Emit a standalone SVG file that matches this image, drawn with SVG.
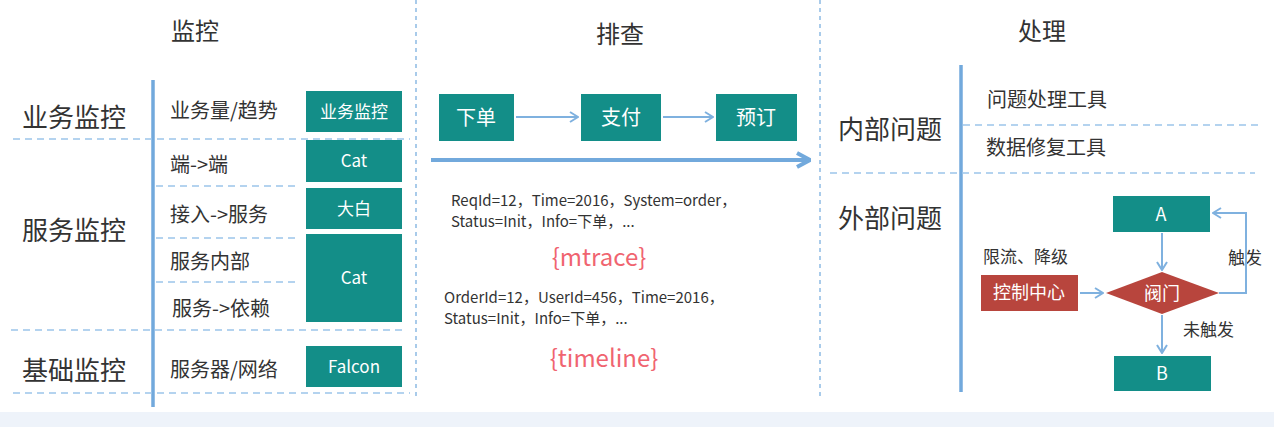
<svg xmlns="http://www.w3.org/2000/svg" width="1274" height="427" viewBox="0 0 1274 427">
<defs>
<style>
text{font-family:"Noto Sans CJK SC","Liberation Sans",sans-serif;fill:#333;}
.title{font-size:24px;text-anchor:middle;}
.big{font-size:26px;}
.mid{font-size:20px;}
.box{fill:#138e88;}
.red{fill:#b8453d;}
.bt{fill:#fff;font-size:17px;text-anchor:middle;}
.dash{stroke:#9cc5ea;stroke-width:1.5;stroke-dasharray:7 5;fill:none;}
.sep{stroke:#8dbbe3;stroke-width:1.5;stroke-dasharray:4 4;fill:none;}
.vbar{stroke:#72a9dc;stroke-width:3.5;}
.con{stroke:#7fb1df;stroke-width:2;fill:none;}
.log{font-size:15px;}
.red-t{fill:#f06470;font-size:24px;text-anchor:middle;}
</style>
<marker id="ah" markerWidth="10" markerHeight="12" refX="9" refY="6" orient="auto" markerUnits="userSpaceOnUse">
<path d="M1,1 L9,6 L1,11" fill="none" stroke="#7fb1df" stroke-width="2"/>
</marker>
<marker id="ahbig" markerWidth="16" markerHeight="18" refX="15" refY="9" orient="auto" markerUnits="userSpaceOnUse">
<path d="M2,2 L15,9 L2,16" fill="none" stroke="#72a9dc" stroke-width="4"/>
</marker>
</defs>
<rect width="1274" height="427" fill="#fff"/>
<rect x="0" y="412" width="1274" height="15" fill="#eef3fa"/>

<g id="separators">
<line class="sep" x1="416" y1="0" x2="416" y2="400"/>
<line class="sep" x1="820" y1="0" x2="820" y2="400"/>
</g>

<g id="monitor">
<text class="title" x="195" y="40">监控</text>
<line class="vbar" x1="153" y1="80" x2="153" y2="407"/>
<line class="dash" x1="13" y1="139" x2="410" y2="139"/>
<line class="dash" x1="156" y1="186" x2="295" y2="186"/>
<line class="dash" x1="156" y1="238" x2="295" y2="238"/>
<line class="dash" x1="156" y1="282" x2="295" y2="282"/>
<line class="dash" x1="11" y1="330" x2="407" y2="330"/>
<line class="dash" x1="13" y1="393" x2="410" y2="393"/>
<text class="big" x="22" y="127">业务监控</text>
<text class="big" x="22" y="240">服务监控</text>
<text class="big" x="22" y="380">基础监控</text>
<text class="mid" x="170" y="118">业务量/趋势</text>
<text class="mid" x="170" y="172">端-&gt;端</text>
<text class="mid" x="170" y="222">接入-&gt;服务</text>
<text class="mid" x="170" y="269">服务内部</text>
<text class="mid" x="172" y="316">服务-&gt;依赖</text>
<text class="mid" x="170" y="377">服务器/网络</text>
</g>
<g id="tool-yewu"><rect class="box" x="306" y="91" width="96" height="41"/><text class="bt" x="354" y="118">业务监控</text></g>
<g id="tool-cat1"><rect class="box" x="306" y="140" width="96" height="42"/><text class="bt" x="354" y="167">Cat</text></g>
<g id="tool-dabai"><rect class="box" x="306" y="188" width="96" height="41"/><text class="bt" x="354" y="215">大白</text></g>
<g id="tool-cat2"><rect class="box" x="306" y="234" width="96" height="88"/><text class="bt" x="354" y="284">Cat</text></g>
<g id="tool-falcon"><rect class="box" x="306" y="346" width="96" height="41"/><text class="bt" x="354" y="373">Falcon</text></g>

<g id="troubleshoot">
<text class="title" x="620" y="43">排查</text>
<text class="log" x="451" y="206">ReqId=12，Time=2016，System=order，</text>
<text class="log" x="451" y="227">Status=Init，Info=下单，...</text>
<text class="red-t" x="599" y="266">{mtrace}</text>
<text class="log" x="444" y="303">OrderId=12，UserId=456，Time=2016，</text>
<text class="log" x="444" y="324">Status=Init，Info=下单，...</text>
<text class="red-t" x="604" y="367">{timeline}</text>
</g>
<g id="step-order"><rect class="box" x="439" y="94" width="75" height="47"/><text class="bt" x="476" y="125" style="font-size:20px">下单</text></g>
<g id="step-pay"><rect class="box" x="581" y="94" width="80" height="47"/><text class="bt" x="621" y="125" style="font-size:20px">支付</text></g>
<g id="step-book"><rect class="box" x="716" y="94" width="81" height="47"/><text class="bt" x="756" y="125" style="font-size:20px">预订</text></g>

<g id="handle">
<text class="title" x="1042" y="40">处理</text>
<line class="vbar" x1="961" y1="65" x2="961" y2="392"/>
<line class="dash" x1="963" y1="125" x2="1260" y2="125"/>
<line class="dash" x1="830" y1="173" x2="1255" y2="173"/>
<text class="big" x="838" y="139">内部问题</text>
<text class="big" x="838" y="228">外部问题</text>
<text class="mid" x="987" y="107">问题处理工具</text>
<text class="mid" x="986" y="155">数据修复工具</text>
<text style="font-size:17px" x="983" y="263">限流、降级</text>
<text style="font-size:17px" x="1228" y="264">触发</text>
<text style="font-size:17px" x="1183" y="336">未触发</text>
</g>
<g id="node-a"><rect class="box" x="1113" y="196" width="97" height="36"/><text class="bt" x="1161" y="221" style="font-size:18px">A</text></g>
<g id="node-b"><rect class="box" x="1114" y="356" width="97" height="35"/><text class="bt" x="1162" y="380" style="font-size:18px">B</text></g>
<g id="node-valve"><polygon class="red" points="1106,293 1162,272 1219,293 1162,314"/><text class="bt" x="1162" y="300" style="font-size:18px">阀门</text></g>
<g id="node-control"><rect class="red" x="981" y="275" width="97" height="36"/><text class="bt" x="1029" y="299" style="font-size:18px">控制中心</text></g>

<g id="connectors">
<line class="con" x1="516" y1="117" x2="578" y2="117" marker-end="url(#ah)"/>
<line class="con" x1="663" y1="117" x2="713" y2="117" marker-end="url(#ah)"/>
<line x1="431" y1="160" x2="810" y2="160" stroke="#72a9dc" stroke-width="4" marker-end="url(#ahbig)"/>
<line class="con" x1="1080" y1="293" x2="1103" y2="293" marker-end="url(#ah)"/>
<line class="con" x1="1162" y1="233" x2="1162" y2="270" marker-end="url(#ah)"/>
<line class="con" x1="1162" y1="315" x2="1162" y2="353" marker-end="url(#ah)"/>
<polyline class="con" points="1219,293 1246,293 1246,213 1213,213" marker-end="url(#ah)"/>
</g>
</svg>
